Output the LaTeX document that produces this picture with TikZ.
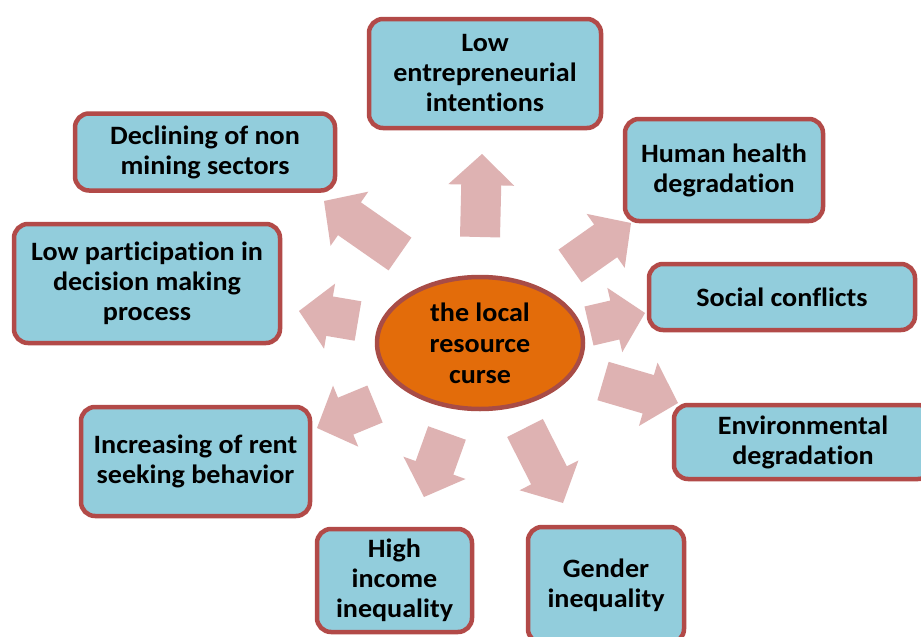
\documentclass[tikz,border=0pt]{standalone}
\usepackage{fontspec}
\setmainfont[FakeStretch=1.06,Ligatures=NoCommon]{Carlito}
\usetikzlibrary{calc,shapes.geometric}
\definecolor{boxfill}{RGB}{146,205,220}
\definecolor{boxline}{RGB}{178,74,72}
\definecolor{ellfill}{RGB}{227,108,10}
\definecolor{ellline}{RGB}{168,76,70}
\definecolor{arrowfill}{RGB}{222,178,178}
\tikzset{
  box/.style={draw=boxline, line width=4.5pt, fill=boxfill, rounded corners=14pt,
    align=center, inner sep=0pt, font=\fontsize{26.5}{30}\selectfont\bfseries},
  centre/.style={draw=ellline, line width=4.5pt, fill=ellfill, ellipse,
    align=center, inner sep=0pt, font=\fontsize{26.5}{31}\selectfont\bfseries},
  blockarrowfill/.style={fill=arrowfill}
}
\newcommand\blockarrow[3]{%
  \coordinate (#1-a) at #2;
  \coordinate (#1-b) at #3;
  \coordinate (#1-c) at ($(#1-b)!31pt!(#1-a)$);
  \fill[blockarrowfill] ($(#1-a)!20pt!90:(#1-b)$) -- ($(#1-c)!20pt!90:(#1-b)$)
    -- ($(#1-c)!33pt!90:(#1-b)$) -- (#1-b) -- ($(#1-c)!33pt!-90:(#1-b)$)
    -- ($(#1-c)!20pt!-90:(#1-b)$) -- ($(#1-a)!20pt!-90:(#1-b)$) -- cycle;
}
\begin{document}
\begin{tikzpicture}[x=1pt,y=-1pt]
\useasboundingbox (0,0) rectangle (921,637);
\clip (0,0) rectangle (921,637);
\fill[white] (0,0) rectangle (921,637);
% block arrows
\blockarrow{aup}{(480,237)}{(482,154)}
\blockarrow{aul}{(400,254)}{(324,201)}
\blockarrow{aur}{(570,266)}{(631,223)}
\blockarrow{al}{(358,321)}{(299,311)}
\blockarrow{ar}{(589,326)}{(645,313)}
\blockarrow{all}{(375,404)}{(317,428)}
\blockarrow{alr}{(603,381)}{(678,403)}
\blockarrow{adl}{(447,433)}{(424,497)}
\blockarrow{adr}{(525,428)}{(563,503)}
% centre
\node[centre, minimum width=206pt, minimum height=132pt] (curse) at (480,343) {the local\\resource\\curse};
% boxes
\node[box, minimum width=232pt, minimum height=109pt] (entre) at (485,73.5) {Low\\entrepreneurial\\intentions};
\node[box, minimum width=260pt, minimum height=77pt] (decl) at (205,152) {Declining of non\\mining sectors};
\node[box, minimum width=198pt, minimum height=102pt] (health) at (724,170) {Human health\\degradation};
\node[box, minimum width=266pt, minimum height=119pt] (partic) at (147,283.5) {Low participation in\\decision making\\process};
\node[box, minimum width=266pt, minimum height=66pt] (social) at (782,297) {Social conflicts};
\node[box, minimum width=258pt, minimum height=74pt] (env) at (803,442) {Environmental\\degradation};
\node[box, minimum width=229pt, minimum height=109pt] (rent) at (195.5,461.5) {Increasing of rent\\seeking behavior};
\node[box, minimum width=155pt, minimum height=103pt] (income) at (394.5,580.5) {High\\income\\inequality};
\node[box, minimum width=156pt, minimum height=116pt] (gender) at (606,585) {Gender\\inequality};
\end{tikzpicture}
\end{document}
